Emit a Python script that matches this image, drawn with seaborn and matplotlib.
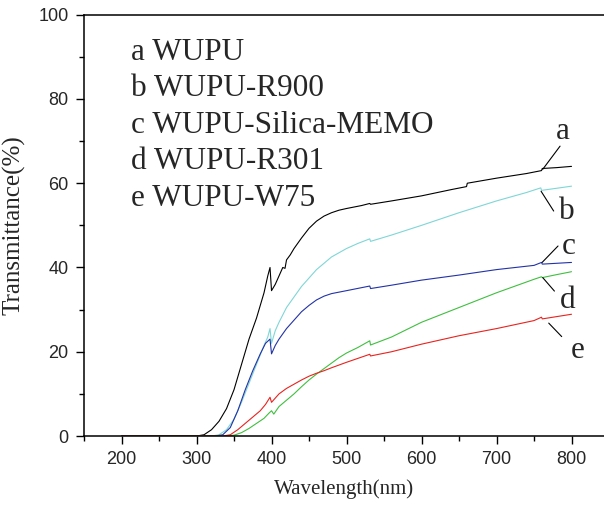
import seaborn as sns
import matplotlib.pyplot as plt
from matplotlib.ticker import MultipleLocator
import pandas as pd

# wavelength (nm) / transmittance (%)
wl_a = [200, 300, 310, 320, 330, 340, 350, 360, 370, 380, 390, 395, 398, 400, 405, 410, 415, 418, 420,
        425, 430, 440, 450, 460, 470, 480, 490, 500, 520, 531, 532, 560, 600, 640, 660, 661, 700, 740,
        760, 761, 780, 800]
t_a = [0, 0, 0.3, 1.5, 3.5, 6.5, 11, 17, 23, 28, 34, 38, 40, 34.5, 36, 38, 40, 39.8, 41.8,
       43, 44.5, 47, 49.3, 51, 52.2, 53, 53.6, 54, 54.7, 55.2, 55, 55.8, 57, 58.5, 59.2, 60, 61.2, 62.3,
       63, 63.5, 63.7, 64]

wl_b = [200, 320, 330, 340, 350, 360, 370, 380, 390, 395, 398, 400, 405, 410, 420, 430, 440, 450,
        460, 470, 480, 490, 500, 515, 531, 532, 560, 600, 650, 700, 740, 759, 760, 780, 800]
t_b = [0, 0, 0.3, 1.5, 4, 8, 12.5, 17, 21.5, 23.5, 25.5, 22, 25, 27, 30.5, 33, 35.5, 37.5,
       39.5, 41, 42.5, 43.5, 44.5, 45.7, 46.8, 46.2, 47.7, 50, 53, 55.8, 57.8, 58.9, 58.3, 58.8, 59.3]

wl_c = [200, 325, 335, 345, 355, 365, 375, 385, 392, 398, 400, 405, 410, 420, 430, 440, 450, 460,
        470, 480, 500, 531, 532, 560, 600, 650, 700, 750, 760, 761, 800]
t_c = [0, 0, 0.3, 2, 6, 11, 15.5, 19.5, 22, 23, 19.5, 21.5, 23, 25.5, 27.5, 29.5, 31, 32.3,
       33.2, 33.8, 34.5, 35.6, 35, 35.8, 37, 38.2, 39.5, 40.5, 41.2, 40.8, 41.2]

wl_d = [200, 340, 350, 360, 370, 380, 390, 397, 400, 403, 410, 420, 430, 440, 450, 460, 470, 480,
        490, 500, 515, 531, 532, 560, 600, 650, 700, 750, 760, 761, 780, 800]
t_d = [0, 0, 0.2, 0.8, 1.8, 3, 4.2, 5.5, 6, 5.2, 7, 8.5, 10, 11.7, 13.3, 14.7, 16, 17.3,
       18.6, 19.7, 21, 22.6, 21.6, 23.5, 27, 30.5, 34, 37.2, 37.8, 37.6, 38.3, 39]

wl_e = [200, 335, 345, 355, 365, 375, 385, 392, 398, 400, 405, 410, 420, 430, 440, 450, 460, 470,
        480, 500, 531, 532, 560, 600, 650, 700, 750, 760, 761, 800]
t_e = [0, 0, 0.3, 1.5, 3, 4.5, 6, 7.5, 9.2, 8, 9, 10, 11.3, 12.3, 13.3, 14.2, 14.9, 15.5,
       16.2, 17.5, 19.4, 19, 20, 21.8, 23.8, 25.5, 27.4, 28.2, 27.8, 28.9]

keys = ["a", "b", "c", "d", "e"]
names = ["WUPU", "WUPU-R900", "WUPU-Silica-MEMO", "WUPU-R301", "WUPU-W75"]
colors = ["#000000", "#7fd6d6", "#2233a6", "#3fbf3f", "#e8231f"]

# leader lines (start, end) and letter positions near the right end
lead_start = [(784.7, 68.8), (759.4, 58.1), (782.0, 45.1), (761.6, 37.6), (769.6, 26.8)]
lead_end = [(761.6, 63.3), (776.2, 53.4), (760.8, 41.2), (777.2, 34.4), (786.9, 23.6)]
letter_xy = [(788, 70.5), (794, 51.5), (796, 43.3), (795, 30.5), (808, 18.5)]

frames = []
for k, w, t in zip(keys, [wl_a, wl_b, wl_c, wl_d, wl_e], [t_a, t_b, t_c, t_d, t_e]):
    frames.append(pd.DataFrame({"wavelength": w, "T": t, "sample": k}))
df = pd.concat(frames, ignore_index=True)

sns.set_style("ticks")
plt.rcParams['font.family'] = ['Liberation Sans', 'DejaVu Sans']

fig = plt.figure(figsize=(6.04, 5.12), dpi=100)
ax = fig.add_axes([0.1391, 0.1484, 0.8609, 0.8229])

sns.lineplot(data=df, x="wavelength", y="T", hue="sample", palette=colors,
             estimator=None, sort=False, linewidth=0.8, legend=False, ax=ax)

ax.set_xlim(150, 843.3)
ax.set_ylim(0, 100)
ax.xaxis.set_major_locator(MultipleLocator(100))
ax.xaxis.set_minor_locator(MultipleLocator(50))
ax.yaxis.set_major_locator(MultipleLocator(20))
ax.yaxis.set_minor_locator(MultipleLocator(10))
ax.tick_params(which="major", direction="out", length=6, width=1, labelsize=13, pad=5, color="black")
ax.tick_params(which="minor", direction="out", length=3.5, width=1, color="black")
ax.tick_params(top=False, right=False)
ax.spines["right"].set_visible(False)
for s in ["left", "bottom", "top"]:
    ax.spines[s].set_linewidth(1.1)
    ax.spines[s].set_color("black")

serif = ['Liberation Serif', 'DejaVu Serif']
ax.set_xlabel("Wavelength(nm)", fontsize=15, family=serif, labelpad=8)
ax.set_ylabel("Transmittance(%)", fontsize=18, family=serif, labelpad=9)

for i, (k, n) in enumerate(zip(keys, names)):
    ax.text(212, 89.3 - i * 8.65, k + " " + n, fontsize=22.5, family=serif, va="baseline")

for k, s, e, xy in zip(keys, lead_start, lead_end, letter_xy):
    ax.annotate("", xy=e, xytext=s,
                arrowprops=dict(arrowstyle="-", lw=0.8, color="black", shrinkA=0, shrinkB=0))
    ax.text(xy[0], xy[1], k, fontsize=22.5, family=serif, ha="center", va="baseline")

fig.savefig("out.png", dpi=100)
